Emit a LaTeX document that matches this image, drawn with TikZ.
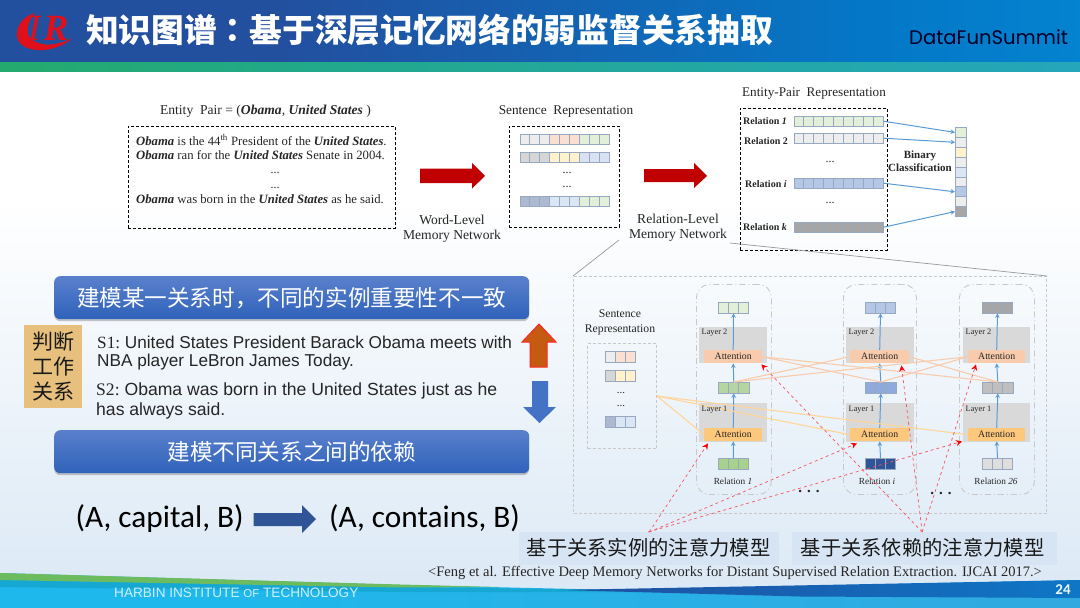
\documentclass[tikz,border=0pt]{standalone}
\usepackage{fontspec}
\usetikzlibrary{arrows.meta,shadows,calc}
\setmainfont{Liberation Serif}
\newfontfamily\cjk{Noto Sans CJK SC}
\newfontfamily\cjktc{Noto Sans CJK TC}
\newfontfamily\arial{Liberation Sans}
\newfontfamily\calib{Carlito}
\newfontfamily\pop{Poppins}
\newcommand{\fs}[1]{\fontsize{#1}{#1}\selectfont}
\newcommand{\bi}[1]{\textbf{\textit{#1}}}
\definecolor{cgreen}{HTML}{E2EFD9}
\definecolor{cgray}{HTML}{EDEDED}
\definecolor{cpeach}{HTML}{FBDFD1}
\definecolor{cmid}{HTML}{D6D6D6}
\definecolor{cyell}{HTML}{FFF2CC}
\definecolor{clblue}{HTML}{D9E2F3}
\definecolor{cslate}{HTML}{ADB9D0}
\definecolor{cice}{HTML}{DAE6F3}
\definecolor{cblue}{HTML}{B4C7E7}
\definecolor{cdark}{HTML}{A6A6A6}
\definecolor{cmgreen}{HTML}{B5D6A0}
\definecolor{cbgreen}{HTML}{A9D18E}
\definecolor{cmblue}{HTML}{8FAADC}
\definecolor{cnavy}{HTML}{2F5597}
\definecolor{cg3}{HTML}{BFBFBF}
\definecolor{cg4}{HTML}{DEDEDE}
\definecolor{edge}{HTML}{98A8C0}
\definecolor{wire}{HTML}{5B9BD5}
\definecolor{peach}{HTML}{F8CBAD}
\definecolor{amber}{HTML}{FDC77C}
\definecolor{lamber}{HTML}{FFD59A}
\definecolor{layergray}{HTML}{D9D9D9}
\definecolor{boxgray}{HTML}{C8C8C8}
\definecolor{redwire}{HTML}{F4555F}
\definecolor{logored}{HTML}{E0101A}
\definecolor{hA}{HTML}{234F9F}
\definecolor{hB}{HTML}{0477C6}
\definecolor{hC}{HTML}{05A0E6}
\definecolor{sA}{HTML}{27AE3A}
\definecolor{sB}{HTML}{22A88C}
\definecolor{sC}{HTML}{27A5DC}
\definecolor{fA}{HTML}{1FB8EC}
\definecolor{fB}{HTML}{3B9FD8}
\definecolor{btnA}{HTML}{5A80CC}
\definecolor{btnB}{HTML}{2F62BA}
\definecolor{bgend}{HTML}{DAE8F5}
\definecolor{fgreen}{HTML}{6DBB5F}
\definecolor{fteal}{HTML}{16A8D2}
\definecolor{fdA}{HTML}{1F4FA0}
\definecolor{fdB}{HTML}{0F76C6}
\definecolor{arrowred}{HTML}{C00000}
\definecolor{blot}{HTML}{D6E4F4}
\definecolor{patch}{HTML}{E6C07C}
\definecolor{upfill}{HTML}{C55A11}
\definecolor{dnfill}{HTML}{4472C4}
\definecolor{rarrow}{HTML}{2F5597}
\pgfdeclarehorizontalshading{hdr}{100bp}{color(0bp)=(hA); color(38bp)=(hA); color(65bp)=(hB); color(100bp)=(hC)}
\pgfdeclarehorizontalshading{stripe}{100bp}{color(0bp)=(sA); color(40bp)=(sB); color(100bp)=(sC)}
\pgfdeclarehorizontalshading{foot}{100bp}{color(0bp)=(fA); color(35bp)=(fA); color(100bp)=(fB)}
\tikzset{
  lbl/.style={inner sep=0pt,text=black!85},
  dashbox/.style={draw=black,densely dashed,line width=0.9pt},
  stripline/.style={draw=edge,line width=0.9pt},
  wirearrow/.style={draw=wire,line width=1pt,-{Stealth[length=4.5pt,width=4.5pt]}},
  redarrow/.style={draw=redwire,line width=0.7pt,dashed,-{Stealth[length=6pt,width=6pt,color=red]}},
  peachline/.style={draw=peach,line width=1.1pt},
  amberline/.style={draw=lamber,line width=1.1pt},
  bluebtn/.style={rounded corners=6pt,top color=btnA,bottom color=btnB,text=white,
     drop shadow={shadow xshift=0pt,shadow yshift=-2pt,opacity=.45}},
  colbox/.style={draw=boxgray,line width=0.9pt,rounded corners=13pt,dash pattern=on 6pt off 3pt on 1pt off 3pt},
}
% named box from corner coordinates
\newcommand{\bx}[7]{\pgfmathsetmacro\bxw{#5-#3}\pgfmathsetmacro\bxh{#6-#4}%
  \node[#2,inner sep=0pt,minimum width=\bxw pt,minimum height=\bxh pt,anchor=north west] (#1) at (#3,#4) {#7};}
% row of cells: name, x0, y0, cell width, height, number, colours
\newcommand{\cellrow}[7]{%
  \foreach \cc [count=\ci from 0] in {#7}{\draw[stripline,fill=\cc] (#2+\ci*#4,#3) rectangle ++(#4,#5);}%
  \pgfmathsetmacro\crw{#4*#6}%
  \node[inner sep=0pt,minimum width=\crw pt,minimum height=#5 pt,anchor=north west] (#1) at (#2,#3) {};}
\begin{document}
\begin{tikzpicture}[x=1pt,y=-1pt]
\useasboundingbox (0,0) rectangle (1080,608);
% background
\fill[white] (0,0) rectangle (1080,200);
\path[top color=white,bottom color=bgend] (0,200) rectangle (1080,608);
% header
\path[shading=hdr] (0,0) rectangle (1080,62);
\path[shading=stripe] (0,62) rectangle (1080,71);
% footer
\path[shading=foot] (0,573) -- (400,585) -- (620,590) -- (1080,580) -- (1080,608) -- (0,608) -- cycle;
\fill[fteal] (0,580) -- (400,587) -- (620,590) -- (640,592) -- (400,592) -- (0,587) -- cycle;
\fill[fgreen] (0,573) -- (400,584.5) -- (500,587) -- (400,587.5) -- (0,580) -- cycle;
\path[left color=fdA,right color=fdB] (560,590) -- (1080,580) -- (1080,598) -- (800,596.5) -- cycle;
% logo
\fill[logored] (35,13) .. controls (22,17) and (17,26) .. (17,35) .. controls (17,46) and (30,51) .. (44,50) .. controls (55,49) and (66,44) .. (72,38.5) .. controls (62,43) and (50,46) .. (42,44) .. controls (32,42) and (26,36) .. (28,27) .. controls (29,21) and (32,16) .. (35,13) -- cycle;
\node[inner sep=0pt,text=logored] (logoI) at (35,28) {\fs{37}\textit{I}};
\node[inner sep=0pt,text=logored] (logoR) at (56,28) {\fs{37}\bi{R}};
% title
\node[inner sep=0pt,anchor=west,text=white] (title) at (86,30) {\fs{32.7}\cjk\bfseries 知识图谱{\cjktc\bfseries ：}基于深层记忆网络的弱监督关系抽取};
\node[inner sep=0pt,anchor=west,text=black!85!blue] (brand) at (909,37) {\fs{19.6}\pop DataFunSummit};
% ---- top row
\node[lbl] (pairlbl) at (265.5,111) {\fs{13.6}Entity\ \ Pair = (\bi{Obama}, \bi{United States} )};
\bx{b1}{dashbox}{128}{126}{395}{228}{}
\node[lbl,anchor=west] (l1) at (136,140) {\fs{12.7}\bi{Obama} is the 44\textsuperscript{th} President of the \bi{United States}.};
\node[lbl,anchor=west] (l2) at (136,155) {\fs{12.7}\bi{Obama} ran for the \bi{United States} Senate in 2004.};
\node[lbl] (d1) at (275,173) {\fs{12}...};
\node[lbl] (d2) at (275,188) {\fs{12}...};
\node[lbl,anchor=west] (l3) at (136,199) {\fs{12.7}\bi{Obama} was born in the \bi{United States} as he said.};
\fill[arrowred] (420,168.5) -- (472,168.5) -- (472,163) -- (485,176) -- (472,188.5) -- (472,183) -- (420,183) -- cycle;
\node[lbl,align=center] (wl) at (452,228.5) {\fs{13.6}Word-Level\\[3pt]\fs{13.6}Memory Network};
\node[lbl] (srlbl) at (566,112) {\fs{13.3}Sentence\ \ Representation};
\bx{b2}{dashbox}{509}{126}{619}{227}{}
\cellrow{r1}{520}{134}{9.9}{10}{9}{cgray,cgray,cgray,cpeach,cpeach,cpeach,cgreen,cgreen,cgreen}
\cellrow{r2}{520}{152}{9.9}{10}{9}{cmid,cmid,cmid,cyell,cyell,cyell,clblue,clblue,clblue}
\cellrow{r3}{520}{196}{9.9}{10}{9}{cslate,cslate,cslate,cice,cice,cice,cgreen,cgreen,cgreen}
\node[lbl] (d3) at (567,173) {\fs{12}...};
\node[lbl] (d4) at (567,187) {\fs{12}...};
\fill[arrowred] (644,169) -- (694,169) -- (694,163) -- (707,176) -- (694,188) -- (694,182) -- (644,182) -- cycle;
\node[lbl,align=center] (rl) at (678,227.5) {\fs{13.6}Relation-Level\\[3pt]\fs{13.6}Memory Network};
\node[lbl] (eplbl) at (814,94) {\fs{13.2}Entity-Pair\ \ Representation};
\bx{b3}{dashbox}{740}{108}{887}{250}{}
\cellrow{e1}{794}{116}{9.9}{10}{9}{cgreen,cgreen,cgreen,cgreen,cgreen,cgreen,cgreen,cgreen,cgreen}
\cellrow{e2}{794}{133}{9.9}{10}{9}{cgray,cgray,cgray,cgray,cgray,cgray,cgray,cgray,cgray}
\cellrow{e3}{794}{178}{9.9}{10}{9}{cblue,cblue,cblue,cblue,cblue,cblue,cblue,cblue,cblue}
\cellrow{e4}{794}{222}{9.9}{10}{9}{cdark,cdark,cdark,cdark,cdark,cdark,cdark,cdark,cdark}
\node[lbl,anchor=west] (rn1) at (743,121) {\fs{10}\textbf{Relation \textit{1}}};
\node[lbl,anchor=west] (rn2) at (744,141) {\fs{10}\textbf{Relation 2}};
\node[lbl,anchor=west] (rn3) at (745,184) {\fs{10}\textbf{Relation \textit{i}}};
\node[lbl,anchor=west] (rn4) at (743,227) {\fs{10}\textbf{Relation \textit{k}}};
\node[lbl] (d5) at (830,162) {\fs{12}...};
\node[lbl] (d6) at (830,203) {\fs{12}...};
\node[lbl,align=center] (bc) at (920,161) {\fs{11}\textbf{Binary}\\[1pt]\fs{11}\textbf{Classification}};
\foreach \cc [count=\ci from 1] in {cgreen,cgray,cyell,cgray,cice,cgray,cblue,cgray,cdark}{
  \pgfmathsetmacro\vy{127+(\ci-1)*9.9}
  \node[stripline,fill=\cc,inner sep=0pt,minimum width=11pt,minimum height=9.9pt,anchor=north west] (v\ci) at (955,\vy) {};
}
\draw[wirearrow] (e1.east) -- (v1.west);
\draw[wirearrow] (e2.east) -- (v2.west);
\draw[wirearrow] (e3.east) -- (v7.west);
\draw[wirearrow] (e4.east) -- (v9.west);
% ---- lower model
\bx{big}{draw=boxgray,densely dashed,line width=1pt}{573}{276}{1046}{513}{}
\coordinate (gl) at (619,240);
\coordinate (gr) at (730,243);
\draw[black!40,line width=0.7pt] (gl) -- (big.north west);
\draw[black!40,line width=0.7pt] (gr) -- (big.north east);
\node[lbl,align=center] (srl2) at (620,322.5) {\fs{11.7}Sentence\\[3pt]\fs{11.7}Representation};
\bx{sb}{draw=boxgray,densely dashed,line width=1pt}{587}{343}{656}{448}{}
\cellrow{q1}{605}{351}{10.3}{11}{3}{cgray,cpeach,cpeach}
\cellrow{q2}{605}{370}{10.3}{11}{3}{cmid,cyell,cyell}
\cellrow{q3}{605}{416}{10.3}{11}{3}{cslate,cice,cice}
\node[lbl] (d7) at (621,393) {\fs{11}...};
\node[lbl] (d8) at (621,406) {\fs{11}...};
\foreach \n/\bl/\br/\gl/\gr/\al/\ar/\sl/\ct/\cm/\cb/\rtxt/\rx in {
  1/696/771/699/767/704/762/718/cgreen/cmgreen/cbgreen/{Relation \textit{1}}/733,
  2/843/916/846/914/850/909/865/cblue/cmblue/cnavy/{Relation \textit{i}}/877,
  3/959/1034/963/1030/968/1025/982/cdark/cg3/cg4/{Relation \textit{26}}/996}{
  \bx{col\n}{colbox}{\bl}{284}{\br}{494}{}
  \bx{g2\n}{fill=layergray}{\gl}{327}{\gr}{363}{}
  \bx{g1\n}{fill=layergray}{\gl}{403}{\gr}{442}{}
  \bx{a2\n}{fill=peach,text=black!85}{\al}{350}{\ar}{363}{\fs{9.8}Attention}
  \bx{a1\n}{fill=amber,text=black!85}{\al}{428}{\ar}{441}{\fs{9.8}Attention}
  \cellrow{top\n}{\sl}{302}{10.2}{11}{3}{\ct,\ct,\ct}
  \cellrow{mid\n}{\sl}{382}{10.4}{11}{3}{\cm,\cm,\cm}
  \cellrow{bot\n}{\sl}{458}{10.2}{11}{3}{\cb,\cb,\cb}
  \node[lbl] (rlab\n) at (\rx,481.5) {\fs{9.3}\rtxt};
  \draw[wirearrow] (bot\n.north) -- (a1\n.south);
  \draw[wirearrow] (a1\n.north) -- (mid\n.south);
  \draw[wirearrow] (mid\n.north) -- (a2\n.south);
  \draw[wirearrow] (a2\n.north) -- (top\n.south);
}
% peach cross links
\draw[peachline] (mid1.north) -- (a22.west);
\draw[peachline] (mid1.north) -- (a23.west);
\draw[peachline] (mid2.north) -- (a21.east);
\draw[peachline] (mid2.north) -- (a23.west);
\draw[peachline] (mid3.north) -- (a21.east);
\draw[peachline] (mid3.north) -- (a22.east);
% amber links
\draw[amberline] (sb.east) -- (a11.west);
\draw[amberline] (sb.east) -- (a12.west);
\draw[amberline] (sb.east) -- (a13.west);
\foreach \n/\gl in {1/699,2/846,3/963}{
  \pgfmathsetmacro\lx{\gl+2.5}
  \node[lbl,anchor=west] (ln2\n) at (\lx,332.5) {\fs{8.3}Layer 2};
  \node[lbl,anchor=west] (ln1\n) at (\lx,409.5) {\fs{8.3}Layer 1};
}
% ellipsis
\node[lbl] (dd1) at (809,491.5) {\fs{15}\textbf{. . .}};
\node[lbl] (dd2) at (941,493) {\fs{15}\textbf{. . .}};
% captions
\bx{t1}{fill=blot}{519}{532}{779}{565}{}
\bx{t2}{fill=blot}{792}{532}{1057}{565}{}
\node[lbl,text=black!90] (t1t) at (648.5,548) {\fs{20.3}\cjk 基于关系实例的注意力模型};
\node[lbl,text=black!90] (t2t) at (922.5,548) {\fs{20.3}\cjk 基于关系依赖的注意力模型};
\draw[redarrow] (t1.north) -- ([xshift=4pt,yshift=-2pt]a11.south west);
\draw[redarrow] (t1.north) -- ([xshift=7pt,yshift=-2pt]a12.south west);
\draw[redarrow] ([xshift=-1pt]t1.north) -- ([xshift=-6pt,yshift=0pt]a13.south west);
\coordinate (ap2) at ([xshift=-2.5pt]t2.north);
\draw[redarrow] (ap2) -- ([xshift=-1pt,yshift=-1pt]a21.south east);
\draw[redarrow] (ap2) -- ([xshift=-8pt,yshift=-2pt]a22.south east);
\draw[redarrow] (ap2) -- ([xshift=8pt,yshift=-1pt]a23.south west);
\node[lbl,anchor=west,text=black!85] (cite) at (428,573) {\fs{14.5}<Feng et al. Effective Deep Memory Networks for Distant Supervised Relation Extraction. IJCAI 2017.>};
% ---- left panel
\bx{btn1}{bluebtn}{54}{276}{529}{319}{\fs{22.6}\cjk 建模某一关系时，不同的实例重要性不一致}
\bx{btn2}{bluebtn}{54}{430}{529}{473}{\fs{22.6}\cjk 建模不同关系之间的依赖}
\bx{tag}{fill=patch,text=black!90,align=center}{24}{325}{82}{408}{\fs{21}\cjk 判断\\[4.5pt]\fs{21}\cjk 工作\\[4.5pt]\fs{21}\cjk 关系}
\node[lbl,anchor=west] (s1a) at (97,342) {\fs{17.2}S1:\arial\ United States President Barack Obama meets with};
\node[lbl,anchor=west] (s1b) at (97,362.5) {\fs{17.2}\arial NBA player LeBron James Today.};
\node[lbl,anchor=west] (s2a) at (96,390.5) {\fs{17.6}S2:\arial\ Obama was born in the United States just as he};
\node[lbl,anchor=west] (s2b) at (96,411) {\fs{17.6}\arial has always said.};
\draw[fill=upfill,draw=red!85!white,line width=1pt] (530,367) -- (530,342) -- (522,342) -- (539,324) -- (556,342) -- (547,342) -- (547,367) -- cycle;
\fill[dnfill] (532,381) -- (548,381) -- (548,407) -- (556,407) -- (539.5,423) -- (523,407) -- (532,407) -- cycle;
\node[lbl,anchor=west,text=black] (ta) at (75.5,518.5) {\fs{31.3}\calib (A, capital, B)};
\fill[rarrow] (253.5,513) -- (302,513) -- (302,505) -- (316,519) -- (302,533) -- (302,526) -- (253.5,526) -- cycle;
\node[lbl,anchor=west,text=black] (tb) at (329,518.5) {\fs{31.3}\calib (A, contains, B)};
% footer text
\node[inner sep=0pt,anchor=west,text=white!80!cyan] (hit) at (114,592.5) {\fs{13.6}\arial HARBIN INSTITUTE {\fs{11.5}OF} TECHNOLOGY};
\node[inner sep=0pt,text=white!92!cyan] (pg) at (1063,590) {\fs{15}\calib\bfseries 24};
\end{tikzpicture}
\end{document}
